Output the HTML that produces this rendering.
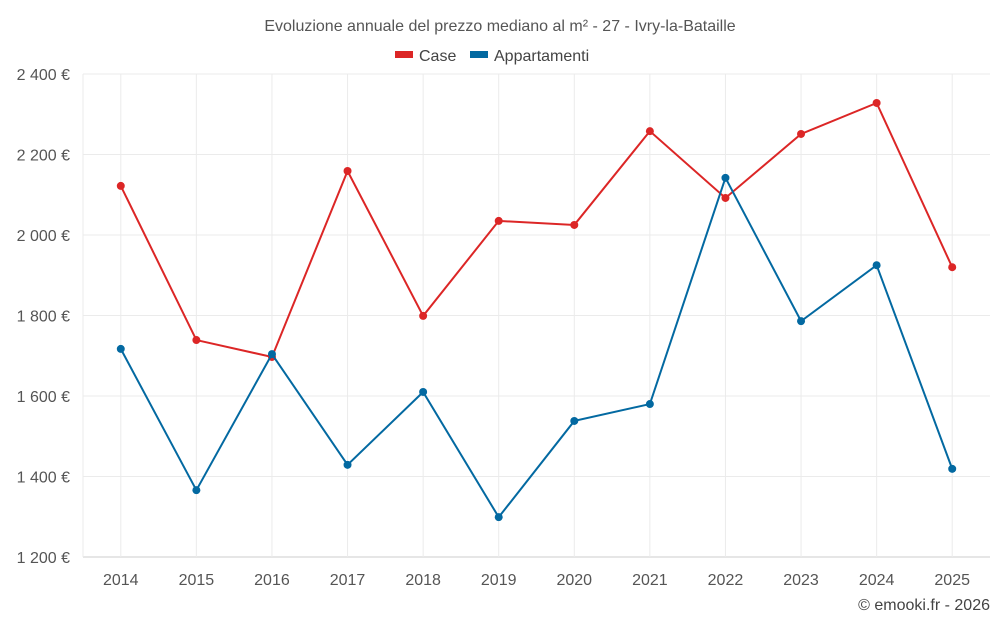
<!DOCTYPE html>
<html><head><meta charset="utf-8"><style>
body{margin:0;background:#fff;font-family:"Liberation Sans",sans-serif}
svg text{font-family:"Liberation Sans",sans-serif}
</style></head><body>
<svg id="c" width="1000" height="625">
<text x="500" y="31" text-anchor="middle" font-size="16" fill="#555">Evoluzione annuale del prezzo mediano al m² - 27 - Ivry-la-Bataille</text>
<g>
<g><rect x="395" y="51" width="18" height="7" fill="#dc2626"/><text x="419" y="61" font-size="16" fill="#444">Case</text></g>
<g><rect x="470" y="51" width="18" height="7" fill="#0369a1"/><text x="494" y="61" font-size="16" fill="#444">Appartamenti</text></g>
</g>
<g id="grid"></g><g id="axes"></g><g id="series"></g>
<text x="990" y="610" text-anchor="end" font-size="16" fill="#444">© emooki.fr - 2026</text>
</svg>
<script>
const years=["2014","2015","2016","2017","2018","2019","2020","2021","2022","2023","2024","2025"];
const caseVals=[2122,1739,1697,2159,1799,2035,2025,2258,2092,2251,2328,1920];
const appVals=[1717,1366,1704,1429,1610,1299,1538,1580,2142,1786,1925,1419];
const yTicks=[1200,1400,1600,1800,2000,2200,2400];
const yLabels=["1 200 €","1 400 €","1 600 €","1 800 €","2 000 €","2 200 €","2 400 €"];
const L=83,R=990,T=74,B=557,ymin=1200,ymax=2400;
const bw=(R-L)/years.length;
const x=i=>L+bw*(i+0.5);
const y=v=>B-(v-ymin)/(ymax-ymin)*(B-T);
const NS="http://www.w3.org/2000/svg";
function mk(t,a,p){const e=document.createElementNS(NS,t);for(const k in a)e.setAttribute(k,a[k]);p.appendChild(e);return e;}
const g=document.getElementById('grid'),ax=document.getElementById('axes'),s=document.getElementById('series');
yTicks.forEach((v,i)=>{
 const l=mk('line',{x1:L,x2:R,y1:y(v),y2:y(v),stroke:i==0?'#ccc':'#ebebeb'},g);
 
 
 const t=mk('text',{x:70,y:y(v)+6,'text-anchor':'end','font-size':16,fill:'#555'},ax);
 t.textContent=yLabels[i];
 
 
});
years.forEach((yr,i)=>{
 const l=mk('line',{x1:x(i),x2:x(i),y1:T,y2:B,stroke:'#ebebeb'},g);
 
 
 const t=mk('text',{x:x(i),y:585,'text-anchor':'middle','font-size':16,fill:'#555'},ax);
 t.textContent=yr;
 
 
});
mk('line',{x1:L,x2:L,y1:T,y2:B,stroke:'#ebebeb'},g);
function draw(vals,col,name){
 const p=mk('polyline',{points:vals.map((v,i)=>x(i)+','+y(v)).join(' '),fill:'none',stroke:col,'stroke-width':2},s);
 
 
 vals.forEach((v,i)=>{
  const c=mk('circle',{cx:x(i),cy:y(v),r:4,fill:col},s);
  
  
 });
}
draw(caseVals,'#dc2626','case');
draw(appVals,'#0369a1','appartamenti');
</script>
</body></html>
